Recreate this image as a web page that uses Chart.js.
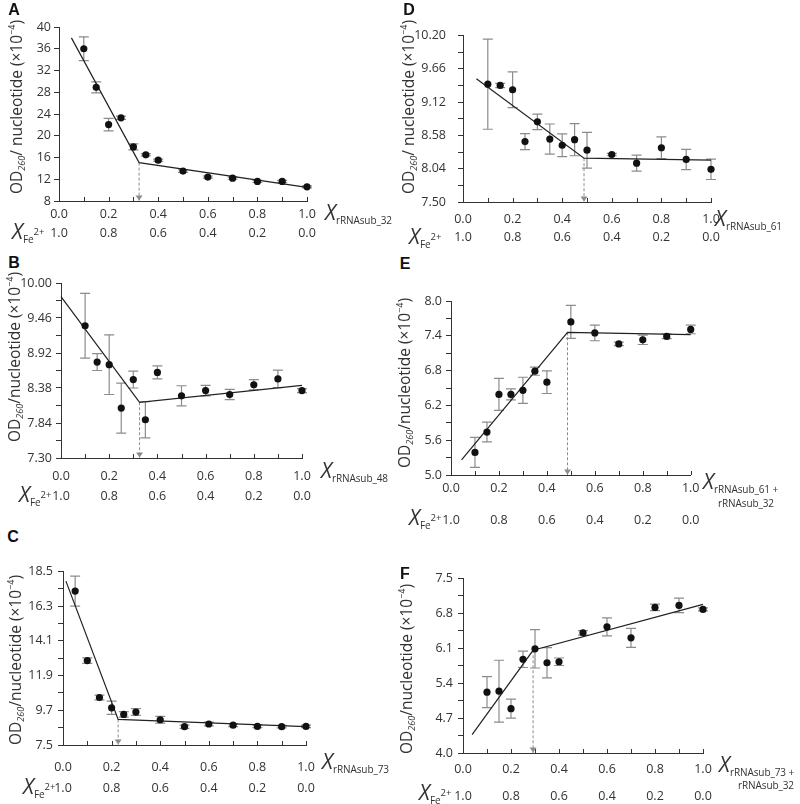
<!DOCTYPE html>
<html>
<head>
<meta charset="utf-8">
<script src="https://cdn.jsdelivr.net/npm/chart.js@4.4.0/dist/chart.umd.min.js"></script>
<style>
body { margin:0; background:#fff; width:800px; height:804px; position:relative; overflow:hidden;
       font-family:"Open Sans", sans-serif; color:#333; }
.box { position:absolute; }
.t { position:absolute; white-space:nowrap; line-height:1; transform:translateY(-50%); }
.letter { font-family:"Liberation Sans", Arial, sans-serif; font-weight:bold; font-size:16px; color:#111; transform:translate(-50%,-50%); }
.ytitle { position:absolute; white-space:nowrap; font-size:15.5px; line-height:1; transform:translate(-50%,-50%) rotate(-90deg); }
.ytitle .s { font-size:9px; font-style:italic; position:relative; top:3px; }
.ytitle .p { font-size:9px; position:relative; top:-7px; }
.xi { font-style:italic; font-size:21px; }
.xs { font-size:10px; position:relative; top:4px; letter-spacing:-0.1px; }
.xp { font-size:9.5px; position:relative; top:-4px; }
.l2 { font-size:10px; letter-spacing:-0.1px; }
</style>
</head>
<body>
<script>
// x positions (mole fraction of rRNA substrate)
const xA = [0.1, 0.15, 0.2, 0.25, 0.3, 0.35, 0.4, 0.5, 0.6, 0.7, 0.8, 0.9, 1.0];
const yA = [36.0, 28.9, 22.05, 23.3, 17.95, 16.5, 15.5, 13.5, 12.4, 12.2, 11.6, 11.6, 10.6];
const eA = [2.2, 1.0, 1.15, 0.3, 0.55, 0.2, 0.2, 0.25, 0.2, 0.2, 0.2, 0.2, 0.2];
const fitXA = [0.05, 0.323, 1.0];
const fitYA = [38.0, 15.06, 10.5];
const yLabA = ['8', '12', '16', '20', '24', '28', '32', '36', '40'];

const xB = [0.1, 0.15, 0.2, 0.25, 0.3, 0.35, 0.4, 0.5, 0.6, 0.7, 0.8, 0.9, 1.0];
const yB = [9.34, 8.78, 8.74, 8.07, 8.51, 7.89, 8.62, 8.26, 8.34, 8.28, 8.43, 8.52, 8.34];
const eB = [0.5, 0.13, 0.46, 0.385, 0.13, 0.28, 0.1, 0.155, 0.08, 0.08, 0.08, 0.135, 0.03];
const fitXB = [0, 0.326, 1.0];
const fitYB = [9.79, 8.16, 8.42];
const yLabB = ['7.30', '7.84', '8.38', '8.92', '9.46', '10.00'];

const xC = [0.05, 0.1, 0.15, 0.2, 0.25, 0.3, 0.4, 0.5, 0.6, 0.7, 0.8, 0.9, 1.0];
const yC = [17.26, 12.85, 10.51, 9.86, 9.44, 9.59, 9.1, 8.66, 8.83, 8.76, 8.68, 8.66, 8.68];
const eC = [0.95, 0.17, 0.15, 0.42, 0.17, 0.21, 0.21, 0.1, 0.12, 0.1, 0.08, 0.08, 0.08];
const fitXC = [0.012, 0.227, 1.0];
const fitYC = [17.89, 9.12, 8.66];
const yLabC = ['7.5', '9.7', '11.9', '14.1', '16.3', '18.5'];

const xD = [0.1, 0.15, 0.2, 0.25, 0.3, 0.35, 0.4, 0.45, 0.5, 0.6, 0.7, 0.8, 0.9, 1.0];
const yD = [9.41, 9.39, 9.32, 8.48, 8.8, 8.52, 8.42, 8.51, 8.34, 8.27, 8.13, 8.38, 8.19, 8.03];
const eD = [0.73, 0.035, 0.29, 0.13, 0.125, 0.245, 0.185, 0.26, 0.29, 0.02, 0.13, 0.175, 0.165, 0.165];
const fitXD = [0.054, 0.488, 1.0];
const fitYD = [9.5, 8.21, 8.18];
const yLabD = ['7.50', '8.04', '8.58', '9.12', '9.66', '10.20'];

const xE = [0.1, 0.15, 0.2, 0.25, 0.3, 0.35, 0.4, 0.5, 0.6, 0.7, 0.8, 0.9, 1.0];
const yE = [5.39, 5.74, 6.39, 6.39, 6.46, 6.79, 6.6, 7.64, 7.45, 7.26, 7.33, 7.39, 7.51];
const eE = [0.26, 0.17, 0.275, 0.095, 0.225, 0.07, 0.195, 0.285, 0.135, 0.03, 0.08, 0.04, 0.075];
const fitXE = [0.044, 0.486, 1.0];
const fitYE = [5.26, 7.46, 7.42];
const yLabE = ['5.0', '5.6', '6.2', '6.8', '7.4', '8.0'];

const xF = [0.1, 0.15, 0.2, 0.25, 0.3, 0.35, 0.4, 0.5, 0.6, 0.7, 0.8, 0.9, 1.0];
const yF = [5.22, 5.24, 4.89, 5.88, 6.09, 5.81, 5.83, 6.41, 6.53, 6.31, 6.92, 6.96, 6.88];
const eF = [0.31, 0.62, 0.19, 0.165, 0.385, 0.305, 0.075, 0.045, 0.18, 0.19, 0.065, 0.145, 0.03];
const fitXF = [0.038, 0.292, 1.0];
const fitYF = [4.37, 6.06, 6.98];
const yLabF = ['4.0', '4.7', '5.4', '6.1', '6.8', '7.5'];

const xLabels = ['0.0', '0.2', '0.4', '0.6', '0.8', '1.0'];
const feLabels = ['1.0', '0.8', '0.6', '0.4', '0.2', '0.0'];

const FONT = '"Open Sans", sans-serif';
const INK = '#333';
const FSIZE = 12.5;

// box = [x of 0, x of 1, y of max, y of min], off = centre of label rows below axis
const panels = [
    { x: xA, y: yA, e: eA, fx: fitXA, fy: fitYA, yl: yLabA, minor: false, box: [59, 307, 27, 201], off: [13, 32], ypad: 3 },
    { x: xB, y: yB, e: eB, fx: fitXB, fy: fitYB, yl: yLabB, minor: true, box: [61, 302, 283, 458], off: [18, 38], ypad: 4 },
    { x: xC, y: yC, e: eC, fx: fitXC, fy: fitYC, yl: yLabC, minor: true, box: [63, 306, 571, 745], off: [22, 43], ypad: 5 },
    { x: xD, y: yD, e: eD, fx: fitXD, fy: fitYD, yl: yLabD, minor: true, box: [463, 711, 28, 202], off: [17, 35], ypad: 12 },
    { x: xE, y: yE, e: eE, fx: fitXE, fy: fitYE, yl: yLabE, minor: true, box: [451, 692, 301, 475], off: [13, 45], ypad: 4 },
    { x: xF, y: yF, e: eF, fx: fitXF, fy: fitYF, yl: yLabF, minor: true, box: [463, 703, 578, 753], off: [16, 43], ypad: 5 }
];

const extras = {
    id: 'extras',
    beforeDatasetsDraw(chart) {
        const ctx = chart.ctx;
        const ds = chart.data.datasets[0];
        const xs = chart.scales.x, ys = chart.scales.y;
        ctx.save();
        ctx.strokeStyle = '#8c8c8c';
        ctx.lineWidth = 1.2;
        ds.data.forEach((d, i) => {
            const px = xs.getPixelForValue(d.x);
            const y1 = ys.getPixelForValue(d.y + ds.errs[i]);
            const y2 = ys.getPixelForValue(d.y - ds.errs[i]);
            ctx.beginPath();
            ctx.moveTo(px, y1); ctx.lineTo(px, y2);
            ctx.moveTo(px - 5, y1); ctx.lineTo(px + 5, y1);
            ctx.moveTo(px - 5, y2); ctx.lineTo(px + 5, y2);
            ctx.stroke();
        });
        ctx.restore();
    },
    afterDraw(chart) {
        const ctx = chart.ctx;
        const xs = chart.scales.x, ys = chart.scales.y;
        const base = ys.getPixelForValue(ys.min);
        ctx.save();
        // inward x ticks
        ctx.strokeStyle = INK;
        ctx.lineWidth = 1;
        xs.ticks.forEach(t => {
            if (t.value === 0) return;
            const px = Math.round(xs.getPixelForValue(t.value)) + 0.5;
            ctx.beginPath();
            ctx.moveTo(px, base); ctx.lineTo(px, base - 4);
            ctx.stroke();
        });
        // arrow head of the break-point marker
        const brk = chart.data.datasets[2].data[0];
        const ax = xs.getPixelForValue(brk.x);
        ctx.fillStyle = '#8c8c8c';
        ctx.beginPath();
        ctx.moveTo(ax, base - 0.5);
        ctx.lineTo(ax - 3.5, base - 5.5);
        ctx.lineTo(ax + 3.5, base - 5.5);
        ctx.closePath();
        ctx.fill();
        ctx.restore();
    }
};

function makePanel(p) {
    const [L, R, T, B] = p.box;
    const yw = 60, padT = 12, padR = 24;
    const xh = p.off[0] + 8;
    const x2h = p.off[1] - xh + 10;
    const lh = FSIZE * 1.2 / 2;
    const div = document.createElement('div');
    div.className = 'box';
    div.style.left = (L - yw) + 'px';
    div.style.top = (T - padT) + 'px';
    const cv = document.createElement('canvas');
    cv.width = R - L + yw + padR;
    cv.height = B - T + padT + xh + x2h;
    div.appendChild(cv);
    document.body.appendChild(div);

    const yVals = p.yl.map(Number);
    const yTicks = [];
    yVals.forEach((v, i) => {
        yTicks.push(v);
        if (p.minor && i < yVals.length - 1) yTicks.push((v + yVals[i + 1]) / 2);
    });
    const ymin = yVals[0], ymax = yVals[yVals.length - 1];
    const tickFont = { family: FONT, size: FSIZE };

    new Chart(cv, {
        type: 'scatter',
        data: {
            datasets: [
                {
                    data: p.x.map((v, i) => ({ x: v, y: p.y[i] })),
                    errs: p.e,
                    backgroundColor: '#111',
                    borderWidth: 0,
                    pointRadius: 3.6,
                    clip: false
                },
                {
                    type: 'line',
                    data: p.fx.map((v, i) => ({ x: v, y: p.fy[i] })),
                    borderColor: '#222',
                    borderWidth: 1.2,
                    pointRadius: 0,
                    tension: 0,
                    clip: false
                },
                {
                    type: 'line',
                    data: [{ x: p.fx[1], y: p.fy[1] }, { x: p.fx[1], y: ymin }],
                    borderColor: '#8c8c8c',
                    borderWidth: 1,
                    borderDash: [3, 2],
                    pointRadius: 0,
                    clip: false
                }
            ]
        },
        options: {
            responsive: false,
            animation: false,
            events: [],
            layout: { padding: { top: padT, right: padR, left: 0, bottom: 0 } },
            plugins: { legend: { display: false }, tooltip: { enabled: false } },
            scales: {
                x: {
                    type: 'linear', min: 0, max: 1, position: 'bottom', weight: 0,
                    afterBuildTicks: s => { s.ticks = [0, 0.1, 0.2, 0.3, 0.4, 0.5, 0.6, 0.7, 0.8, 0.9, 1].map(v => ({ value: v })); },
                    ticks: {
                        autoSkip: false, maxRotation: 0, color: INK, font: tickFont,
                        padding: p.off[0] - lh,
                        callback: (v, i) => (i % 2 === 0 ? xLabels[i / 2] : '')
                    },
                    grid: { display: false, drawTicks: false },
                    border: { display: true, color: INK, width: 1 },
                    afterFit: s => { s.height = xh; }
                },
                x2: {
                    type: 'linear', min: 0, max: 1, position: 'bottom', weight: 1,
                    afterBuildTicks: s => { s.ticks = [0, 0.2, 0.4, 0.6, 0.8, 1].map(v => ({ value: v })); },
                    ticks: {
                        autoSkip: false, maxRotation: 0, color: INK, font: tickFont,
                        padding: p.off[1] - xh - lh,
                        callback: (v, i) => feLabels[i]
                    },
                    grid: { display: false, drawTicks: false },
                    border: { display: false },
                    afterFit: s => { s.height = x2h; }
                },
                y: {
                    type: 'linear', min: ymin, max: ymax,
                    afterBuildTicks: s => { s.ticks = yTicks.map(v => ({ value: v })); },
                    ticks: {
                        autoSkip: false, color: INK, font: tickFont, padding: p.ypad,
                        callback: (v, i) => (p.minor ? (i % 2 === 0 ? p.yl[i / 2] : '') : p.yl[i])
                    },
                    grid: { drawOnChartArea: false, drawTicks: true, tickLength: 5, color: INK },
                    border: { display: true, color: INK, width: 1 },
                    afterFit: s => { s.width = yw; }
                }
            }
        },
        plugins: [extras]
    });
}

panels.forEach(makePanel);

// text overlays
function addText(cls, left, top, html) {
    const el = document.createElement('div');
    el.className = cls;
    el.style.left = left + 'px';
    el.style.top = top + 'px';
    el.innerHTML = html;
    document.body.appendChild(el);
}

const odSpace = 'OD<span class="s">260</span>/ nucleotide (×10<span class="p">−4</span>)';
const odTight = 'OD<span class="s">260</span>/nucleotide (×10<span class="p">−4</span>)';
const fe = '<span class="xi">X</span><span class="xs">Fe</span><span class="xp">2+</span>';

[['A', 14, 10], ['D', 409, 10], ['B', 14, 263], ['E', 405, 264], ['C', 13, 537], ['F', 405, 574]]
    .forEach(([s, x, y]) => addText('t letter', x, y, s));

addText('ytitle', 17, 107, odSpace);
addText('ytitle', 409, 107, odSpace);
addText('ytitle', 15, 357, odTight);
addText('ytitle', 405, 383, odTight);
addText('ytitle', 16, 660, odTight);
addText('ytitle', 407, 669, odTight);

addText('t', 325, 212, '<span class="xi">X</span><span class="xs">rRNAsub_32</span>');
addText('t', 715, 218, '<span class="xi">X</span><span class="xs">rRNAsub_61</span>');
addText('t', 321, 470, '<span class="xi">X</span><span class="xs">rRNAsub_48</span>');
addText('t', 322, 761, '<span class="xi">X</span><span class="xs">rRNAsub_73</span>');
addText('t', 703, 481, '<span class="xi">X</span><span class="xs">rRNAsub_61 +</span>');
addText('t l2', 718, 503, 'rRNAsub_32');
addText('t', 719, 764, '<span class="xi">X</span><span class="xs">rRNAsub_73 +</span>');
addText('t l2', 738, 785, 'rRNAsub_32');

addText('t', 12, 231, fe);
addText('t', 19, 494, fe);
addText('t', 23, 786, fe);
addText('t', 409, 236, fe);
addText('t', 409, 517, fe);
addText('t', 419, 792, fe);
</script>
</body>
</html>
